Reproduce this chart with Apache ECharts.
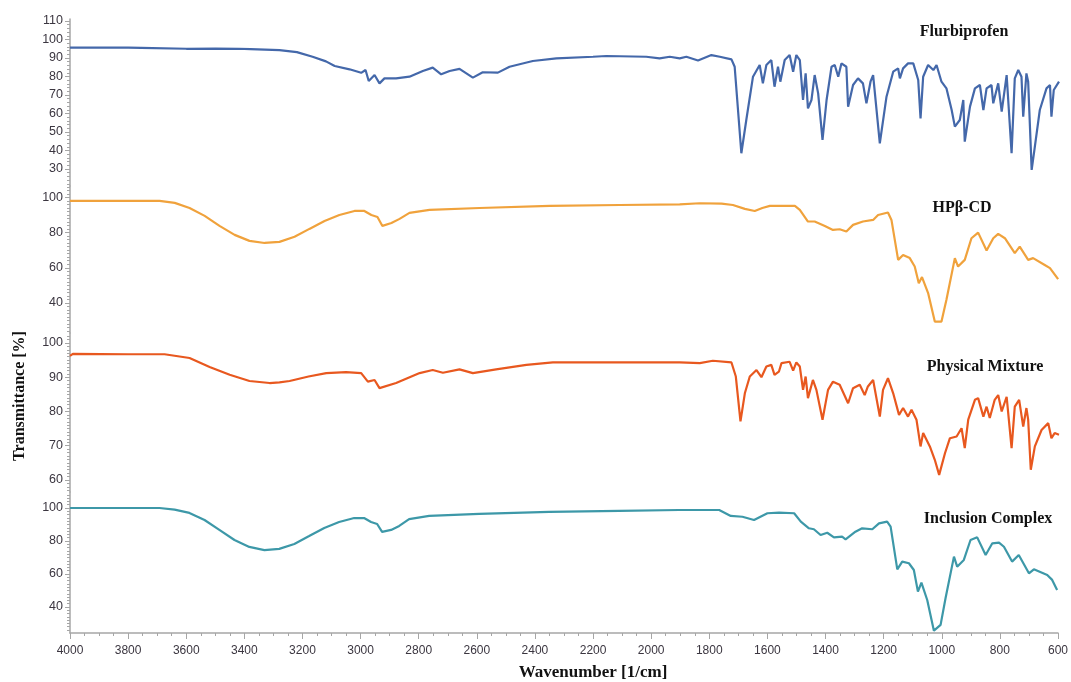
<!DOCTYPE html>
<html>
<head>
<meta charset="utf-8">
<script src="https://cdn.jsdelivr.net/npm/echarts@6/dist/echarts.min.js"></script>
<style>
html,body{margin:0;padding:0;background:#fff;}
#chart{width:1071px;height:682px;}
</style>
</head>
<body>
<div id="chart"></div>
<script>
// ---- Data: [wavenumber (1/cm), transmittance (%)] ----
const flurbiprofen = [[4000,95.6],[3900,95.6],[3800,95.6],[3756,95.5],[3750,95.0],[3600,95.0],[3500,95.1],[3420,95.0],[3380,94.8],[3280,94.3],[3220,93.2],[3166,90.7],[3120,88.2],[3090,85.7],[3039,83.9],[2999,82],[2984,83.5],[2973,77.6],[2953,80.8],[2936,76.3],[2919,79],[2879,79],[2833,79.9],[2787,83],[2753,84.8],[2724,81.2],[2695,83],[2661,84.1],[2615,79.4],[2581,82.3],[2529,82.1],[2489,85.3],[2409,88.4],[2328,89.8],[2202,90.7],[2156,91.1],[2019,90.7],[1973,89.8],[1938,90.7],[1904,89.8],[1881,90.7],[1841,88.7],[1795,91.6],[1766,90.7],[1726,89.3],[1715,85.3],[1692,38.5],[1675,56.5],[1652,79.9],[1629,86.2],[1618,76.3],[1606,86.2],[1589,88.9],[1578,74.5],[1566,85.3],[1558,77.2],[1543,88.9],[1526,91.6],[1514,82.6],[1503,91.6],[1491,88.9],[1480,67.3],[1471,81.7],[1463,62.8],[1451,67.3],[1440,80.8],[1428,70.9],[1413,45.7],[1399,67.3],[1382,85.3],[1371,86.2],[1359,79.9],[1348,87.1],[1331,85.3],[1325,63.7],[1308,75.4],[1291,79],[1274,76.3],[1262,65.5],[1248,77.2],[1239,80.8],[1216,43.9],[1193,69.1],[1170,82.6],[1153,84.4],[1147,79],[1136,84.4],[1119,87.1],[1101,87.1],[1084,78.1],[1076,57.4],[1067,79.9],[1050,86.2],[1032,83.5],[1021,86.2],[1004,77.2],[987,73.6],[969,61.9],[958,52.9],[941,56.5],[929,67.3],[924,44.8],[906,63.7],[889,73.6],[872,75.4],[860,61.9],[849,73.6],[832,75.4],[826,65.5],[809,76.3],[797,61],[780,80.8],[763,38.5],[752,79],[740,83.5],[729,79.9],[723,58.3],[712,81.7],[706,77.2],[694,29.5],[683,42.1],[666,61.9],[643,73.6],[631,75.4],[626,58.3],[618,72.7],[600,77.2]];

const hpbcd = [[4000,98],[3800,98],[3692,98],[3640,96.9],[3589,94],[3537,89.5],[3486,83.8],[3434,78.7],[3383,75.3],[3331,74.1],[3280,74.7],[3228,77.6],[3177,82.1],[3125,86.6],[3074,90],[3022,92.3],[2988,92.3],[2964,90],[2943,88.9],[2926,83.8],[2895,85.5],[2867,87.8],[2833,91.2],[2764,92.9],[2592,94],[2351,95.2],[2110,95.7],[1904,96],[1835,96.7],[1760,96.5],[1721,95.7],[1680,93.5],[1646,92.3],[1620,94],[1594,95.2],[1508,95.2],[1491,92.9],[1463,86.3],[1440,86.3],[1405,83.8],[1377,81.5],[1354,81.9],[1331,80.6],[1308,84.4],[1274,86.3],[1239,87.2],[1222,90],[1188,91.4],[1176,87.2],[1153,64.5],[1136,67.3],[1113,65.5],[1096,60.7],[1082,51.2],[1071,54.7],[1050,45.6],[1027,29.4],[1004,29.4],[987,41.8],[958,65.5],[947,60.7],[924,64.5],[901,76.8],[878,80],[849,69.8],[826,76.8],[809,79.3],[786,76.8],[752,68.3],[735,72],[706,64.5],[689,65.5],[649,61.6],[631,59.8],[603,53.5]];

const physicalMixture = [[4000,96.2],[3990,96.8],[3800,96.7],[3675,96.7],[3589,95.6],[3520,93],[3451,90.7],[3383,88.9],[3314,88.3],[3280,88.5],[3245,88.9],[3180,90.2],[3119,91.2],[3051,91.5],[2999,91.2],[2976,88.7],[2953,89.2],[2936,86.8],[2879,88.3],[2798,91.2],[2753,92.1],[2718,91.3],[2661,92.3],[2615,91.2],[2535,92.3],[2431,93.6],[2340,94.3],[2168,94.3],[2019,94.3],[1904,94.3],[1835,94.1],[1790,94.8],[1726,94.3],[1711,90.2],[1695,77.1],[1680,85.3],[1663,90.2],[1640,92.1],[1623,90],[1606,93.1],[1589,93.6],[1578,90.7],[1563,91.6],[1554,94.1],[1526,94.5],[1514,91.9],[1503,94.3],[1491,93.1],[1480,86.3],[1471,90.2],[1463,83.9],[1446,89.2],[1434,86.3],[1413,77.6],[1394,86.3],[1377,88.7],[1354,87.8],[1325,82.4],[1308,86.8],[1285,87.8],[1268,84.8],[1257,87.3],[1239,89.2],[1216,78.5],[1205,86.3],[1188,89.7],[1170,85.3],[1150,79],[1136,81],[1119,78.5],[1107,80.5],[1090,77.6],[1076,69.8],[1067,73.7],[1044,69.8],[1027,65.9],[1012,61.5],[992,67.8],[975,72.2],[952,72.7],[935,75.1],[924,69.3],[912,77.6],[889,83.4],[878,83.9],[860,78.5],[849,81.4],[838,78.1],[821,83.4],[809,84.8],[797,80],[780,84.3],[763,69.3],[752,81.4],[737,83.4],[723,75.6],[712,81],[706,77.6],[697,63],[683,69.8],[660,74.6],[637,76.6],[626,72.2],[615,73.7],[600,73.2]];

const inclusionComplex = [[4000,100],[3800,100],[3692,100],[3640,99],[3589,97],[3537,92.7],[3486,86.7],[3434,80.6],[3383,76.4],[3331,74.5],[3280,75.2],[3228,78.2],[3177,83],[3125,87.9],[3074,91.5],[3022,93.9],[2988,93.9],[2964,91.5],[2943,90.3],[2926,85.5],[2895,86.7],[2867,89.1],[2833,93.3],[2764,95.2],[2592,96.4],[2351,97.6],[2110,98.2],[1904,98.8],[1835,98.8],[1766,98.8],[1726,95.2],[1686,94.7],[1646,92.7],[1600,96.8],[1560,97.2],[1508,96.8],[1485,91.7],[1457,87.7],[1440,87.1],[1417,83.6],[1394,85],[1371,82.2],[1343,82.6],[1331,81],[1297,85.6],[1274,87.7],[1239,87.1],[1216,90.7],[1188,91.7],[1176,88.7],[1153,62.8],[1136,67.5],[1113,66.5],[1096,62.4],[1082,49.3],[1070,54.7],[1050,44.2],[1027,25.6],[1004,29.1],[987,45.3],[958,70.5],[947,64.4],[924,68.5],[901,80.6],[878,82.2],[849,71.5],[826,78.6],[803,79],[786,76.5],[758,67.5],[735,71.5],[700,60.4],[683,62.8],[637,59.4],[620,56.4],[603,50.3]];

const seriesNames = ['Flurbiprofen', 'HPβ-CD', 'Physical Mixture', 'Inclusion Complex'];
const seriesData = [flurbiprofen, hpbcd, physicalMixture, inclusionComplex];

// y-axis tick labels per panel
const yLabels1 = [30, 40, 50, 60, 70, 80, 90, 100, 110];
const yLabels2 = [40, 60, 80, 100];
const yLabels3 = [60, 70, 80, 90, 100];
const yLabels4 = [40, 60, 80, 100];

// x-axis
const xMin = 600, xMax = 4000, xInterval = 200;

// ---- Layout / style ----
const colors = ['#4468aa', '#f0a23c', '#e8581f', '#3d98a8'];
const panels = [
  { top: 19,  height: 167, min: 20.8, max: 111.1, labels: yLabels1, minorStep: 2 },
  { top: 186, height: 147, min: 22.9, max: 106.5, labels: yLabels2, minorStep: 2 },
  { top: 333, height: 159, min: 56.5, max: 102.9, labels: yLabels3, minorStep: 1 },
  { top: 492, height: 141, min: 24.2, max: 109.7, labels: yLabels4, minorStep: 2 }
];
const labelPos = [[964, 32], [962, 208], [985, 367], [988, 519]];

function range(a, b, s) {
  const out = [];
  for (let v = Math.ceil(a / s) * s; v <= b + 1e-9; v += s) out.push(+v.toFixed(3));
  return out;
}

const axisGray = '#a6a6a6';
const labelColor = '#3b3640';
const tickFont = 'Liberation Sans';

const grid = [], xAxis = [], yAxis = [], series = [];
panels.forEach((p, i) => {
  grid.push({ left: 70, right: 12, top: p.top, height: p.height, containLabel: false });
  const isBottom = i === panels.length - 1;
  xAxis.push({
    type: 'value', gridIndex: i, min: xMin, max: xMax, interval: xInterval, inverse: true,
    show: isBottom,
    axisLine: { show: isBottom, lineStyle: { color: axisGray, width: 1.5 } },
    axisTick: { show: isBottom, length: 6, lineStyle: { color: axisGray } },
    minorTick: { show: isBottom, splitNumber: 4, length: 3, lineStyle: { color: axisGray } },
    axisLabel: { show: isBottom, color: labelColor, fontFamily: tickFont, fontSize: 12, margin: 12,
      formatter: v => String(v) },
    splitLine: { show: false }, minorSplitLine: { show: false }
  });
  // main y axis with minor ticks + labels
  yAxis.push({
    type: 'value', gridIndex: i, position: 'left', min: p.min, max: p.max,
    axisLine: { show: true, lineStyle: { color: axisGray, width: 1.5 } },
    axisTick: { show: true, length: 3, customValues: range(p.min, p.max, p.minorStep), lineStyle: { color: axisGray } },
    axisLabel: { show: true, customValues: p.labels, color: labelColor, fontFamily: tickFont, fontSize: 12.5, margin: 7,
      formatter: v => String(v) },
    splitLine: { show: false }
  });
  // overlay y axis for longer major ticks
  yAxis.push({
    type: 'value', gridIndex: i, position: 'left', offset: 0, min: p.min, max: p.max,
    axisLine: { show: false },
    axisTick: { show: true, length: 5, customValues: p.labels, lineStyle: { color: axisGray } },
    axisLabel: { show: false },
    splitLine: { show: false }
  });
  series.push({
    name: seriesNames[i], type: 'line', xAxisIndex: i, yAxisIndex: i * 2,
    data: seriesData[i], showSymbol: false, smooth: false,
    lineStyle: { color: colors[i], width: 2.2 }, itemStyle: { color: colors[i] },
    z: 3
  });
});

const serif = 'bold 16px "Liberation Serif", "DejaVu Serif", serif';
const graphic = [];
seriesNames.forEach((n, i) => {
  graphic.push({ type: 'text', x: labelPos[i][0], y: labelPos[i][1],
    style: { text: n, font: serif, fill: '#111', align: 'center', verticalAlign: 'middle', textAlign: 'center', textVerticalAlign: 'middle' } });
});
graphic.push({ type: 'text', x: 593, y: 673,
  style: { text: 'Wavenumber [1/cm]', font: 'bold 17px "Liberation Serif", serif', fill: '#111', align: 'center', verticalAlign: 'middle', textAlign: 'center', textVerticalAlign: 'middle' } });
graphic.push({ type: 'text', x: 20, y: 396, rotation: Math.PI / 2,
  style: { text: 'Transmittance [%]', font: 'bold 16px "Liberation Serif", serif', fill: '#111', align: 'center', verticalAlign: 'middle', textAlign: 'center', textVerticalAlign: 'middle' } });

const chart = echarts.init(document.getElementById('chart'), null, { renderer: 'canvas' });
chart.setOption({
  animation: false,
  backgroundColor: '#ffffff',
  grid, xAxis, yAxis, series, graphic
});
</script>
</body>
</html>
